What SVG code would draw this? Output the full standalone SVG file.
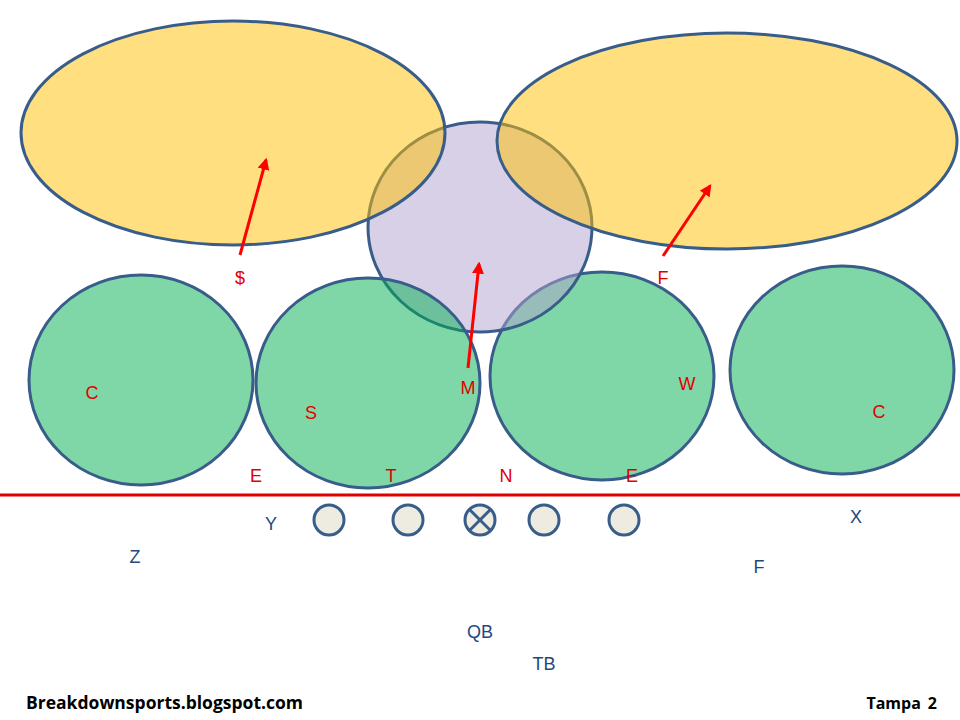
<svg xmlns="http://www.w3.org/2000/svg" width="960" height="720" viewBox="0 0 960 720">
<defs>
<style>
.zone{stroke:#385D8A;stroke-width:3}
.deep{fill:#FFC000;fill-opacity:0.5}
.mid{fill:#B1A1CD;fill-opacity:0.5}
.under{fill:#00B050;fill-opacity:0.5}
.pl{fill:#EEECE1;stroke:#385D8A;stroke-width:3}
.rl{font-family:"Liberation Sans",Arial,sans-serif;font-size:18px;fill:#E00000;text-anchor:middle}
.bl{font-family:"Liberation Sans",Arial,sans-serif;font-size:18px;fill:#1F497D;text-anchor:middle}
.ft{font-family:"Open Sans","Liberation Sans",sans-serif;font-size:17.5px;font-weight:bold;fill:#000}
.arr{stroke:#FF0000;stroke-width:3;fill:none;marker-end:url(#ah)}
</style>
<marker id="ah" viewBox="0 0 10 10" refX="8" refY="5" markerWidth="4" markerHeight="4" orient="auto"><path d="M0,0 L10,5 L0,10 z" fill="#FF0000"/></marker>
</defs>
<rect width="960" height="720" fill="#FFFFFF"/>
<g id="zone-w"><ellipse class="zone under" cx="602" cy="376" rx="112" ry="104"/></g>
<g id="zone-mid"><ellipse class="zone mid" cx="480" cy="227" rx="112" ry="105"/></g>
<g id="zone-deep-left"><ellipse class="zone deep" cx="233" cy="133" rx="212" ry="112"/></g>
<g id="zone-deep-right"><ellipse class="zone deep" cx="727" cy="141" rx="230" ry="108"/></g>
<g id="zone-c-left"><ellipse class="zone under" cx="141" cy="380" rx="112" ry="105"/></g>
<g id="zone-s"><ellipse class="zone under" cx="368" cy="383" rx="112" ry="105"/></g>
<g id="zone-c-right"><ellipse class="zone under" cx="842" cy="370" rx="112" ry="104"/></g>
<g id="los"><line x1="0" y1="495" x2="960" y2="495" stroke="#E00000" stroke-width="3"/></g>
<g id="oline">
<circle class="pl" cx="329" cy="520" r="15"/>
<circle class="pl" cx="408" cy="520" r="15"/>
<circle class="pl" cx="480" cy="520" r="15"/>
<line x1="469" y1="509" x2="491" y2="531" stroke="#385D8A" stroke-width="3"/>
<line x1="491" y1="509" x2="469" y2="531" stroke="#385D8A" stroke-width="3"/>
<circle class="pl" cx="544" cy="520" r="15"/>
<circle class="pl" cx="624" cy="520" r="15"/>
</g>
<g id="connectors">
<line class="arr" x1="240" y1="255" x2="266" y2="160"/>
<line class="arr" x1="468" y1="368" x2="479" y2="264"/>
<line class="arr" x1="663" y1="256" x2="710" y2="186"/>
</g>
<g id="defense-labels">
<text class="rl" x="240" y="284">$</text>
<text class="rl" x="663" y="284">F</text>
<text class="rl" x="92" y="399">C</text>
<text class="rl" x="311" y="419">S</text>
<text class="rl" x="468" y="394">M</text>
<text class="rl" x="687" y="390">W</text>
<text class="rl" x="879" y="418">C</text>
<text class="rl" x="256" y="482">E</text>
<text class="rl" x="391" y="482">T</text>
<text class="rl" x="506" y="482">N</text>
<text class="rl" x="632" y="482">E</text>
</g>
<g id="offense-labels">
<text class="bl" x="271" y="530">Y</text>
<text class="bl" x="135" y="563">Z</text>
<text class="bl" x="856" y="523">X</text>
<text class="bl" x="759" y="573">F</text>
<text class="bl" x="480" y="638">QB</text>
<text class="bl" x="544" y="670">TB</text>
</g>
<g id="footer">
<text class="ft" x="26" y="709">Breakdownsports.blogspot.com</text>
<text class="ft" x="937" y="709" text-anchor="end" style="font-size:16px">Tampa<tspan dx="7">2</tspan></text>
</g>
</svg>
